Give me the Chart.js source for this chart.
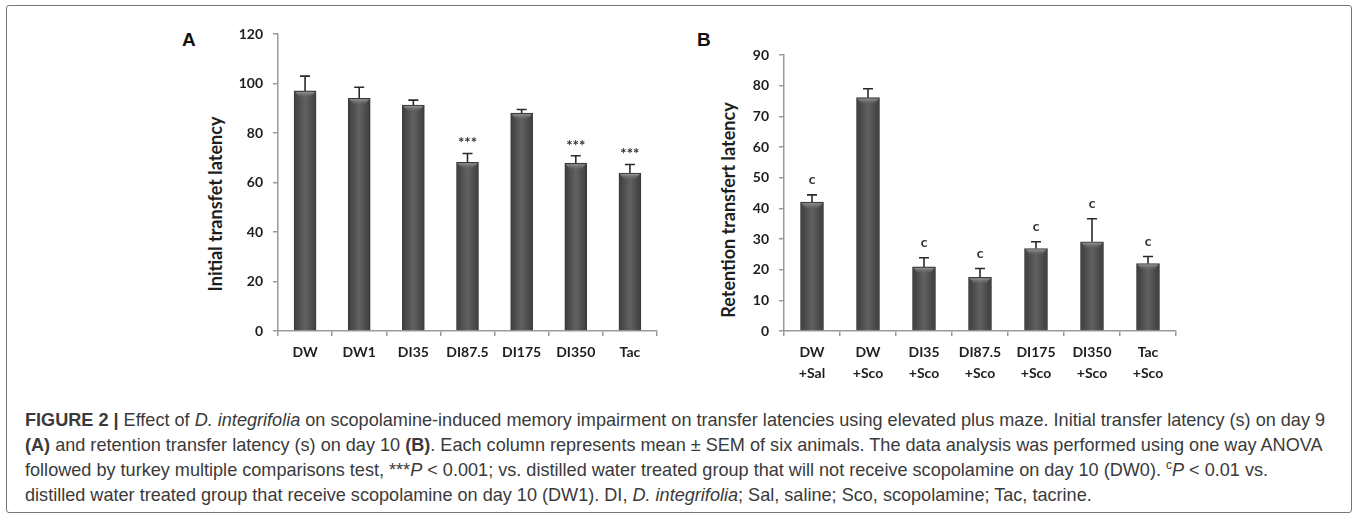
<!DOCTYPE html>
<html>
<head>
<meta charset="utf-8">
<script src="https://cdn.jsdelivr.net/npm/chart.js@4.4.0/dist/chart.umd.min.js"></script>
<style>
  body { margin: 0; background: #fff; }
  #fig { position: relative; width: 1358px; height: 519px; overflow: hidden; background: #fff; }
  #frame { position: absolute; left: 6px; top: 5px; width: 1344px; height: 506px; border: 1px solid #777; border-radius: 3px; }
  .panel { position: absolute; }
  .plabel { position: absolute; font: bold 19px "Liberation Sans", Arial, sans-serif; color: #111; }
  .ytitle { position: absolute; font: bold 18px Lato, sans-serif; color: #1e1e1e; white-space: nowrap;
            transform: translate(-50%, -50%) rotate(-90deg); }
  #caption { position: absolute; left: 25px; top: 408px; font: 18.1px "Liberation Sans", Arial, sans-serif;
             line-height: 25px; color: #3a3a3a; white-space: nowrap; }
  #caption sup { font-size: 12px; line-height: 0; }
</style>
</head>
<body>
<div id="fig">
  <div id="frame"></div>

  <div class="plabel" style="left:182px; top:29px;">A</div>
  <div class="ytitle" style="left:215px; top:204px;">Initial transfet latency</div>
  <canvas id="chartA" class="panel" width="470" height="380" style="left:200px; top:0px;"></canvas>

  <div class="plabel" style="left:697px; top:29px;">B</div>
  <div class="ytitle" style="left:728px; top:210px;">Retention transfert latency</div>
  <canvas id="chartB" class="panel" width="490" height="400" style="left:700px; top:0px;"></canvas>

  <div id="caption">
    <b>FIGURE 2 |</b> Effect of <i>D. integrifolia</i> on scopolamine-induced memory impairment on transfer latencies using elevated plus maze. Initial transfer latency (s) on day 9<br>
    <b>(A)</b> and retention transfer latency (s) on day 10 <b>(B)</b>. Each column represents mean ± SEM of six animals. The data analysis was performed using one way ANOVA<br>
    followed by turkey multiple comparisons test, ***<i>P</i> &lt; 0.001; vs. distilled water treated group that will not receive scopolamine on day 10 (DW0). <sup>c</sup><i>P</i> &lt; 0.01 vs.<br>
    distilled water treated group that receive scopolamine on day 10 (DW1). DI, <i>D. integrifolia</i>; Sal, saline; Sco, scopolamine; Tac, tacrine.
  </div>
</div>

<script>
// Panel A - initial transfer latency (day 9)
const groupsA = ['DW', 'DW1', 'DI35', 'DI87.5', 'DI175', 'DI350', 'Tac'];
const initialMeans = [97, 94, 91.3, 68.2, 88, 67.8, 63.8];
const initialSem = [6, 4.5, 2, 3.5, 1.5, 3, 3.5];
const initialMarks = ['', '', '', '***', '', '***', '***'];
const ticksA = [0, 20, 40, 60, 80, 100, 120];

// Panel B - retention transfer latency (day 10)
const groupsB = [['DW', '+Sal'], ['DW', '+Sco'], ['DI35', '+Sco'], ['DI87.5', '+Sco'], ['DI175', '+Sco'], ['DI350', '+Sco'], ['Tac', '+Sco']];
const retentionMeans = [42, 76.1, 20.9, 17.5, 26.9, 29.1, 22];
const retentionSem = [2.4, 2.9, 3, 2.9, 2.2, 7.5, 2.3];
const retentionMarks = ['c', '', 'c', 'c', 'c', 'c', 'c'];
const ticksB = [0, 10, 20, 30, 40, 50, 60, 70, 80, 90];

const axisGrey = '#9a9a9a';
const tickFont = { family: 'Lato, sans-serif', size: 14, weight: 'bold', lineHeight: 1.5 };

// dark bars, lighter down the middle
function barFill(ctx) {
    const chart = ctx.chart;
    if (!chart.chartArea) return '#555';
    const x = chart.scales.x.getPixelForValue(ctx.dataIndex);
    const g = chart.ctx.createLinearGradient(x - 12, 0, x + 12, 0);
    g.addColorStop(0, '#3a3a3a');
    g.addColorStop(0.5, '#626262');
    g.addColorStop(1, '#3a3a3a');
    return g;
}

// error bars (upper half only) + significance marks
const errorBars = {
    id: 'errorBars',
    afterDatasetsDraw(chart, args, opts) {
        const c = chart.ctx;
        const yScale = chart.scales.y;
        const ds = chart.data.datasets[0];
        const meta = chart.getDatasetMeta(0);
        c.save();
        meta.data.forEach((bar, i) => {
            // bevel highlight on top of the bar
            const w = bar.width;
            const hg = c.createLinearGradient(0, bar.y, 0, bar.y + 7);
            hg.addColorStop(0, '#a8a8a8');
            hg.addColorStop(1, 'rgba(98,98,98,0)');
            c.fillStyle = hg;
            c.beginPath();
            c.moveTo(bar.x - w / 2 + 1, bar.y + 1);
            c.lineTo(bar.x + w / 2 - 1, bar.y + 1);
            c.lineTo(bar.x + w / 2 - 6, bar.y + 7);
            c.lineTo(bar.x - w / 2 + 6, bar.y + 7);
            c.closePath();
            c.fill();

            const top = yScale.getPixelForValue(ds.data[i] + opts.errors[i]);
            c.strokeStyle = '#2a2a2a';
            c.lineWidth = 1.6;
            c.beginPath();
            c.moveTo(bar.x, bar.y);
            c.lineTo(bar.x, top);
            c.moveTo(bar.x - 5, top);
            c.lineTo(bar.x + 5, top);
            c.stroke();
            if (opts.marks[i]) {
                c.fillStyle = '#333';
                c.font = opts.markFont;
                c.textAlign = 'center';
                c.textBaseline = 'middle';
                c.fillText(opts.marks[i], bar.x, top - opts.markGap);
            }
        });
        c.restore();
    }
};

function panelOptions(ticks, yWidth, xHeight, padTop, padRight, errors, marks, markFont, markGap) {
    return {
        responsive: false,
        animation: false,
        layout: { padding: { top: padTop, right: padRight, left: 0, bottom: 0 } },
        plugins: {
            legend: { display: false },
            tooltip: { enabled: false },
            errorBars: { errors: errors, marks: marks, markFont: markFont, markGap: markGap }
        },
        scales: {
            y: {
                min: ticks[0],
                max: ticks[ticks.length - 1],
                ticks: { stepSize: ticks[1] - ticks[0], font: tickFont, color: '#1e1e1e', padding: 10 },
                grid: { drawOnChartArea: false, drawTicks: true, tickLength: 5, color: axisGrey, lineWidth: 1.5 },
                border: { color: axisGrey, width: 1.5 },
                afterFit(s) { s.width = yWidth; }
            },
            x: {
                ticks: { font: tickFont, color: '#1e1e1e', padding: 6, maxRotation: 0, autoSkip: false },
                grid: { drawOnChartArea: false, drawTicks: true, tickLength: 5, color: axisGrey, lineWidth: 1.5, offset: true },
                border: { color: axisGrey, width: 1.5 },
                afterFit(s) { s.height = xHeight; }
            }
        }
    };
}

// Initial transfer latency chart
const ctxA = document.getElementById('chartA').getContext('2d');
new Chart(ctxA, {
    type: 'bar',
    data: {
        labels: groupsA,
        datasets: [{
            data: initialMeans,
            backgroundColor: barFill,
            borderColor: '#3a3a3a',
            borderWidth: 1,
            barThickness: 22
        }]
    },
    options: panelOptions(ticksA, 78, 49, 34, 13, initialSem, initialMarks, 'bold 15px Lato, sans-serif', 10),
    plugins: [errorBars]
});

// Retention transfer latency chart
const ctxB = document.getElementById('chartB').getContext('2d');
new Chart(ctxB, {
    type: 'bar',
    data: {
        labels: groupsB,
        datasets: [{
            data: retentionMeans,
            backgroundColor: barFill,
            borderColor: '#3a3a3a',
            borderWidth: 1,
            barThickness: 23
        }]
    },
    options: panelOptions(ticksB, 84, 69, 55, 14, retentionSem, retentionMarks, 'bold 14px Lato, sans-serif', 15),
    plugins: [errorBars]
});
</script>
</body>
</html>
